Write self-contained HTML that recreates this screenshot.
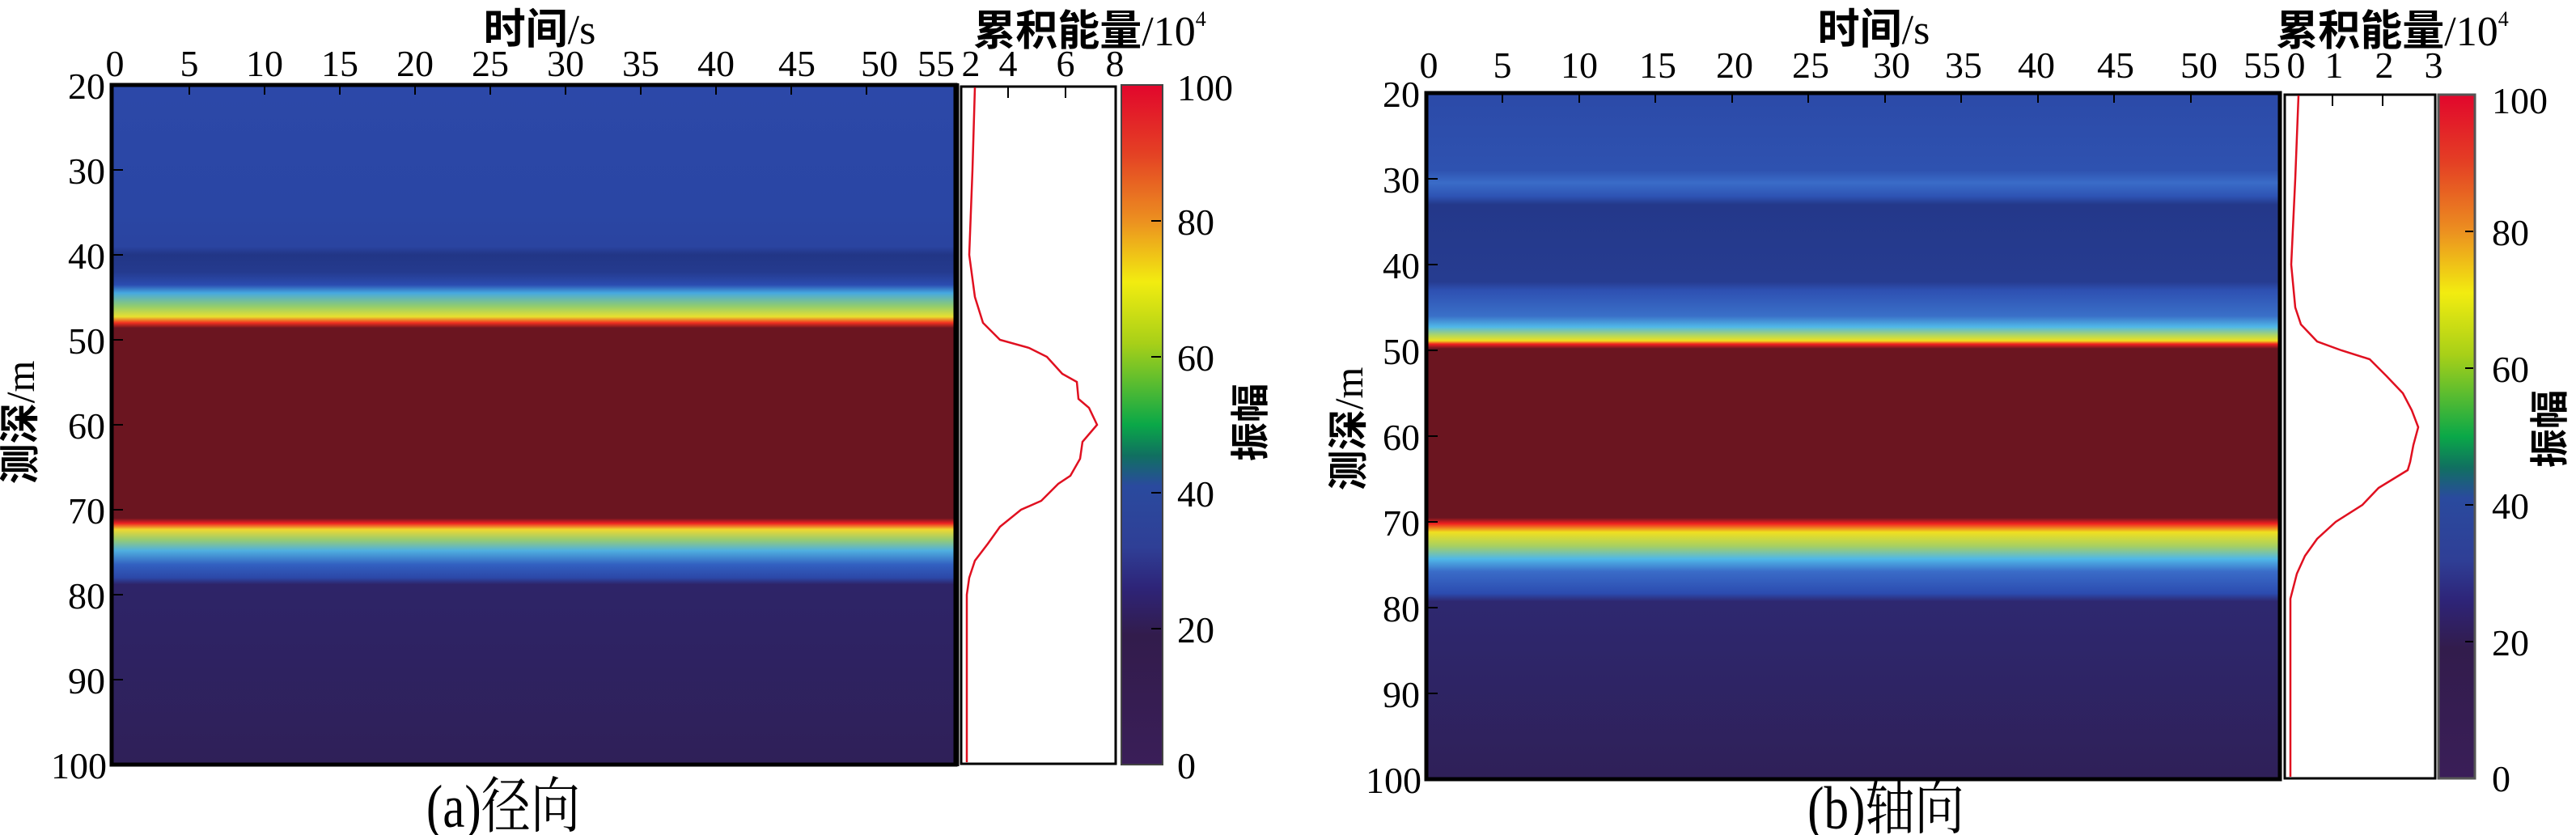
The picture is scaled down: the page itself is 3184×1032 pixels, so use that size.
<!DOCTYPE html>
<html><head><meta charset="utf-8"><style>
html,body{margin:0;padding:0;background:#fff;}
svg{display:block;}
text{font-family:"Liberation Serif","Noto Serif CJK SC",serif;fill:#000;}
.cj{font-family:"Liberation Serif","Noto Sans CJK SC",sans-serif;font-weight:bold;}
</style></head><body>
<svg width="3184" height="1032" viewBox="0 0 3184 1032" xmlns="http://www.w3.org/2000/svg">
<defs>
<linearGradient id="gl" x1="0" y1="0" x2="0" y2="1">
<stop offset="0" stop-color="#2c48a8"/><stop offset="0.1875" stop-color="#2a46a4"/><stop offset="0.2375" stop-color="#2a44a0"/>
<stop offset="0.25" stop-color="#223686"/><stop offset="0.275" stop-color="#243a8e"/><stop offset="0.294" stop-color="#2b4cb0"/>
<stop offset="0.306" stop-color="#46a8e0"/><stop offset="0.325" stop-color="#90cc70"/><stop offset="0.341" stop-color="#e8e030"/>
<stop offset="0.35" stop-color="#f03020"/><stop offset="0.3575" stop-color="#6b1520"/><stop offset="0.6375" stop-color="#6b1520"/>
<stop offset="0.645" stop-color="#ee2222"/><stop offset="0.654" stop-color="#f0d830"/><stop offset="0.669" stop-color="#98cc70"/>
<stop offset="0.685" stop-color="#50b0e0"/><stop offset="0.706" stop-color="#3260c0"/><stop offset="0.725" stop-color="#2c48a8"/>
<stop offset="0.735" stop-color="#2e2468"/><stop offset="1" stop-color="#2f2058"/>
</linearGradient>
<linearGradient id="gr" x1="0" y1="0" x2="0" y2="1">
<stop offset="0" stop-color="#2c4aa8"/><stop offset="0.1125" stop-color="#2e52b0"/><stop offset="0.131" stop-color="#3a6cc8"/>
<stop offset="0.15" stop-color="#2e54b4"/><stop offset="0.1625" stop-color="#24388a"/><stop offset="0.275" stop-color="#263c90"/>
<stop offset="0.2875" stop-color="#2e50b2"/><stop offset="0.325" stop-color="#3a70c8"/><stop offset="0.341" stop-color="#50b8e8"/>
<stop offset="0.354" stop-color="#b8d858"/><stop offset="0.361" stop-color="#f0e020"/><stop offset="0.366" stop-color="#f02020"/>
<stop offset="0.3725" stop-color="#6b1520"/><stop offset="0.619" stop-color="#6b1520"/><stop offset="0.6275" stop-color="#f02020"/>
<stop offset="0.64" stop-color="#f0e020"/><stop offset="0.66" stop-color="#a8d060"/><stop offset="0.679" stop-color="#50b8e8"/>
<stop offset="0.6975" stop-color="#3a6cc8"/><stop offset="0.729" stop-color="#2c4cb0"/><stop offset="0.741" stop-color="#2e2870"/>
<stop offset="1" stop-color="#2f2058"/>
</linearGradient>
<linearGradient id="cb" x1="0" y1="0" x2="0" y2="1">
<stop offset="0" stop-color="#e2062c"/><stop offset="0.1" stop-color="#e44024"/><stop offset="0.2" stop-color="#ec9020"/>
<stop offset="0.29" stop-color="#f2ec10"/><stop offset="0.38" stop-color="#a8d018"/><stop offset="0.5" stop-color="#0aa848"/>
<stop offset="0.545" stop-color="#107060"/><stop offset="0.59" stop-color="#2a4a9e"/><stop offset="0.68" stop-color="#2f3f96"/>
<stop offset="0.74" stop-color="#2e2478"/><stop offset="0.81" stop-color="#321c4c"/><stop offset="1" stop-color="#3a1e58"/>
</linearGradient>
</defs>

<!-- LEFT PANEL -->
<rect x="138" y="105" width="1043" height="840" fill="url(#gl)"/>
<rect x="138" y="105" width="1043" height="840" fill="none" stroke="#000" stroke-width="5"/>
<line x1="1183" y1="103" x2="1183" y2="947" stroke="#000" stroke-width="5"/>
<g stroke="#000" stroke-width="2">
<line x1="234" y1="105" x2="234" y2="117"/><line x1="327" y1="105" x2="327" y2="117"/><line x1="420" y1="105" x2="420" y2="117"/>
<line x1="513" y1="105" x2="513" y2="117"/><line x1="606" y1="105" x2="606" y2="117"/><line x1="699" y1="105" x2="699" y2="117"/>
<line x1="792" y1="105" x2="792" y2="117"/><line x1="885" y1="105" x2="885" y2="117"/><line x1="978" y1="105" x2="978" y2="117"/>
<line x1="1071" y1="105" x2="1071" y2="117"/>
<line x1="138" y1="210" x2="152" y2="210"/><line x1="138" y1="315" x2="152" y2="315"/><line x1="138" y1="420" x2="152" y2="420"/>
<line x1="138" y1="525" x2="152" y2="525"/><line x1="138" y1="630" x2="152" y2="630"/><line x1="138" y1="735" x2="152" y2="735"/>
<line x1="138" y1="840" x2="152" y2="840"/>
</g>
<rect x="1188" y="107" width="191" height="837" fill="#fff" stroke="#000" stroke-width="3"/>
<line x1="1246" y1="107" x2="1246" y2="121" stroke="#000" stroke-width="2"/>
<line x1="1317" y1="107" x2="1317" y2="121" stroke="#000" stroke-width="2"/>
<polyline fill="none" stroke="#e01020" stroke-width="2.5" points="1205,108 1202,210 1198,315 1205,367 1215,399 1236,420 1272,430 1294,441 1313,462 1331,472 1333,493 1346,504 1356,525 1338,546 1335,567 1323,588 1308,598 1287,619 1262,630 1236,651 1221,672 1205,693 1198,714 1195,735 1195,942"/>
<rect x="1386" y="105" width="51" height="840" fill="url(#cb)" stroke="#444" stroke-width="2"/>
<g stroke="#000" stroke-width="2">
<line x1="1423" y1="273" x2="1435" y2="273"/><line x1="1423" y1="441" x2="1435" y2="441"/><line x1="1423" y1="609" x2="1435" y2="609"/><line x1="1423" y1="777" x2="1435" y2="777"/>
</g>
<g font-size="46" text-anchor="middle">
<text x="142" y="94">0</text><text x="234" y="94">5</text><text x="327" y="94">10</text><text x="420" y="94">15</text>
<text x="513" y="94">20</text><text x="606" y="94">25</text><text x="699" y="94">30</text><text x="792" y="94">35</text>
<text x="885" y="94">40</text><text x="985" y="94">45</text><text x="1087" y="94">50</text><text x="1157" y="94">55</text>
<text x="1200" y="94">2</text><text x="1246" y="94">4</text><text x="1317" y="94">6</text><text x="1378" y="94">8</text>
</g>
<g font-size="46" text-anchor="end">
<text x="130" y="122">20</text><text x="130" y="227">30</text><text x="130" y="332">40</text><text x="130" y="437">50</text>
<text x="130" y="542">60</text><text x="130" y="647">70</text><text x="130" y="752">80</text><text x="130" y="857">90</text>
<text x="132" y="962">100</text>
</g>
<g font-size="46">
<text x="1455" y="124">100</text><text x="1455" y="290">80</text><text x="1455" y="458">60</text><text x="1455" y="626">40</text>
<text x="1455" y="794">20</text><text x="1455" y="962">0</text>
</g>
<text x="667" y="54" font-size="52" text-anchor="middle"><tspan class="cj">时间</tspan>/s</text>
<text x="1347" y="56" font-size="52" text-anchor="middle"><tspan class="cj">累积能量</tspan>/10<tspan font-size="26" dy="-24">4</tspan></text>
<text class="cj" transform="translate(42,522) rotate(-90)" font-size="50" text-anchor="middle">测深<tspan font-family="Liberation Serif" font-weight="normal">/m</tspan></text>
<text class="cj" transform="translate(1562,522) rotate(-90)" font-size="48" text-anchor="middle">振幅</text>
<text transform="translate(622,1022) scale(0.9,1.1)" font-size="68" text-anchor="middle">(a)<tspan font-family="Noto Serif CJK SC">径向</tspan></text>

<!-- RIGHT PANEL -->
<rect x="1763" y="115" width="1055" height="848" fill="url(#gr)"/>
<rect x="1763" y="115" width="1055" height="848" fill="none" stroke="#000" stroke-width="5"/>
<g stroke="#000" stroke-width="2">
<line x1="1857" y1="115" x2="1857" y2="127"/><line x1="1952" y1="115" x2="1952" y2="127"/><line x1="2046" y1="115" x2="2046" y2="127"/>
<line x1="2141" y1="115" x2="2141" y2="127"/><line x1="2235" y1="115" x2="2235" y2="127"/><line x1="2330" y1="115" x2="2330" y2="127"/>
<line x1="2424" y1="115" x2="2424" y2="127"/><line x1="2519" y1="115" x2="2519" y2="127"/><line x1="2613" y1="115" x2="2613" y2="127"/>
<line x1="2708" y1="115" x2="2708" y2="127"/>
<line x1="1763" y1="221" x2="1777" y2="221"/><line x1="1763" y1="327" x2="1777" y2="327"/><line x1="1763" y1="433" x2="1777" y2="433"/>
<line x1="1763" y1="539" x2="1777" y2="539"/><line x1="1763" y1="645" x2="1777" y2="645"/><line x1="1763" y1="751" x2="1777" y2="751"/>
<line x1="1763" y1="857" x2="1777" y2="857"/>
</g>
<rect x="2824" y="117" width="186" height="845" fill="#fff" stroke="#000" stroke-width="3"/>
<line x1="2883" y1="117" x2="2883" y2="131" stroke="#000" stroke-width="2"/>
<line x1="2945" y1="117" x2="2945" y2="131" stroke="#000" stroke-width="2"/>
<polyline fill="none" stroke="#e01020" stroke-width="2.5" points="2841,118 2837,221 2832,327 2837,380 2844,401 2864,422 2894,433 2929,444 2950,465 2970,486 2981,507 2989,528 2983,550 2979,571 2976,581 2940,603 2920,624 2887,645 2864,666 2849,687 2839,709 2831,740 2831,960"/>
<rect x="3014" y="117" width="45" height="845" fill="url(#cb)" stroke="#555" stroke-width="3"/>
<g stroke="#000" stroke-width="2">
<line x1="3047" y1="286" x2="3057" y2="286"/><line x1="3047" y1="455" x2="3057" y2="455"/><line x1="3047" y1="624" x2="3057" y2="624"/><line x1="3047" y1="793" x2="3057" y2="793"/>
</g>
<g font-size="46" text-anchor="middle">
<text x="1766" y="96">0</text><text x="1857" y="96">5</text><text x="1952" y="96">10</text><text x="2049" y="96">15</text>
<text x="2144" y="96">20</text><text x="2238" y="96">25</text><text x="2338" y="96">30</text><text x="2427" y="96">35</text>
<text x="2517" y="96">40</text><text x="2615" y="96">45</text><text x="2718" y="96">50</text><text x="2796" y="96">55</text>
<text x="2838" y="96">0</text><text x="2885" y="96">1</text><text x="2947" y="96">2</text><text x="3008" y="96">3</text>
</g>
<g font-size="46" text-anchor="end">
<text x="1755" y="132">20</text><text x="1755" y="238">30</text><text x="1755" y="344">40</text><text x="1755" y="450">50</text>
<text x="1755" y="556">60</text><text x="1755" y="662">70</text><text x="1755" y="768">80</text><text x="1755" y="874">90</text>
<text x="1757" y="980">100</text>
</g>
<g font-size="46">
<text x="3080" y="140">100</text><text x="3080" y="303">80</text><text x="3080" y="472">60</text><text x="3080" y="641">40</text>
<text x="3080" y="810">20</text><text x="3080" y="978">0</text>
</g>
<text x="2316" y="54" font-size="52" text-anchor="middle"><tspan class="cj">时间</tspan>/s</text>
<text x="2957" y="56" font-size="52" text-anchor="middle"><tspan class="cj">累积能量</tspan>/10<tspan font-size="26" dy="-24">4</tspan></text>
<text class="cj" transform="translate(1684,530) rotate(-90)" font-size="50" text-anchor="middle">测深<tspan font-family="Liberation Serif" font-weight="normal">/m</tspan></text>
<text class="cj" transform="translate(3168,530) rotate(-90)" font-size="48" text-anchor="middle">振幅</text>
<text transform="translate(2331,1024) scale(0.9,1.1)" font-size="68" text-anchor="middle">(b)<tspan font-family="Noto Serif CJK SC">轴向</tspan></text>
</svg>
</body></html>
